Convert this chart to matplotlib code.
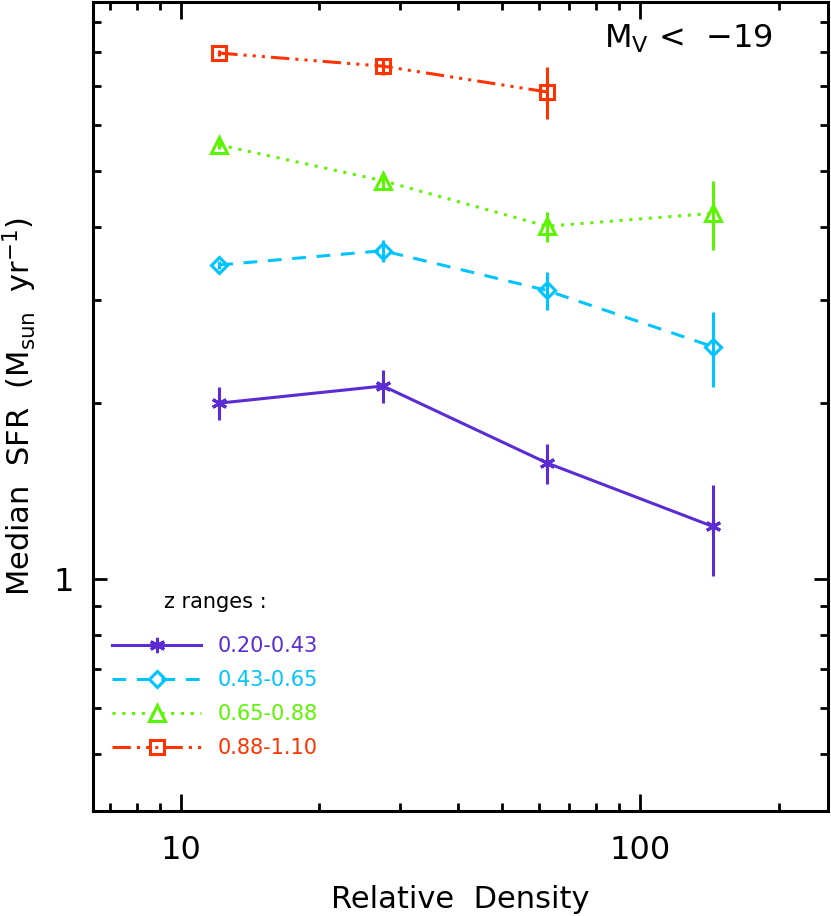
import matplotlib.pyplot as plt
from matplotlib.ticker import LogLocator, NullFormatter, FuncFormatter

plt.rcParams['font.family'] = ['DejaVu Sans']
plt.rcParams['mathtext.default'] = 'regular'

# data
density = [12.1, 27.5, 62.5, 143.5]
z_labels = ["0.20-0.43", "0.43-0.65", "0.65-0.88", "0.88-1.10"]
sfr_z1 = [2.00, 2.14, 1.58, 1.23]
err_z1 = [0.13, 0.14, 0.125, 0.22]
sfr_z2 = [3.45, 3.65, 3.12, 2.50]
err_z2 = [0.06, 0.16, 0.23, 0.37]
sfr_z3 = [5.54, 4.81, 4.02, 4.23]
err_z3 = [0.08, 0.16, 0.24, 0.57]
sfr_z4 = [7.96, 7.56, 6.83]
err_z4 = [0.10, 0.26, 0.69]

COLORS = ["#5b2bd4", "#00c4ff", "#5cf500", "#ff3300"]
LS = ["-", (0, (4.5, 3.5)), (0, (1, 2.2)), (0, (6, 2, 1, 2, 1, 2, 1, 2))]
MK = [(6, 2, 0), "D", "^", "s"]
MS = [11, 8, 11, 10]

series = [(density, sfr_z1, err_z1), (density, sfr_z2, err_z2),
          (density, sfr_z3, err_z3), (density[:3], sfr_z4, err_z4)]

fig = plt.figure(figsize=(8.31, 9.16), dpi=100)
ax = fig.add_axes([0.112, 0.1146, 0.8844, 0.883])

handles = []
for i, (x, y, e) in enumerate(series):
    ax.errorbar(x, y, yerr=e, fmt="none", ecolor=COLORS[i], elinewidth=2.2, capsize=0)
    h, = ax.plot(x, y, color=COLORS[i], ls=LS[i], lw=2.2, marker=MK[i], ms=MS[i],
                 mfc="none", mec=COLORS[i], mew=2.2, label=z_labels[i])
    handles.append(h)

ax.set_xscale("log"); ax.set_yscale("log")
ax.set_xlim(6.43, 256); ax.set_ylim(0.40, 9.73)

for a in (ax.xaxis, ax.yaxis):
    a.set_major_locator(LogLocator(base=10))
    a.set_minor_locator(LogLocator(base=10, subs=range(2, 10)))
    a.set_minor_formatter(NullFormatter())
    a.set_major_formatter(FuncFormatter(lambda v, p: "%g" % v))

ax.tick_params(which="both", direction="in", top=True, right=True, width=2, labelsize=23)
ax.tick_params(axis="x", which="major", length=12, pad=17)
ax.tick_params(axis="x", which="minor", length=6)
ax.tick_params(axis="y", which="major", length=10, pad=14)
ax.tick_params(axis="y", which="minor", length=6)
for s in ax.spines.values():
    s.set_linewidth(2.2)

ax.set_xlabel("Relative  Density", fontsize=22, labelpad=14)
ax.set_ylabel(r"Median  SFR  (M$_{sun}$  yr$^{-1}$)", fontsize=22, labelpad=10)

ax.text(0.925, 0.975, r"M$_{V}$ <  $-$19", transform=ax.transAxes, fontsize=23,
        ha="right", va="top")

leg = ax.legend(handles=handles, loc="lower left", bbox_to_anchor=(0.0, 0.042),
                title="z ranges :", frameon=False, fontsize=15, title_fontsize=15,
                labelcolor="linecolor", handlelength=4.3, handletextpad=0.8,
                labelspacing=0.68, numpoints=1)
leg._legend_box.sep = 17  # a bit more room under the title

fig.savefig("out.png", dpi=100, facecolor="white")
